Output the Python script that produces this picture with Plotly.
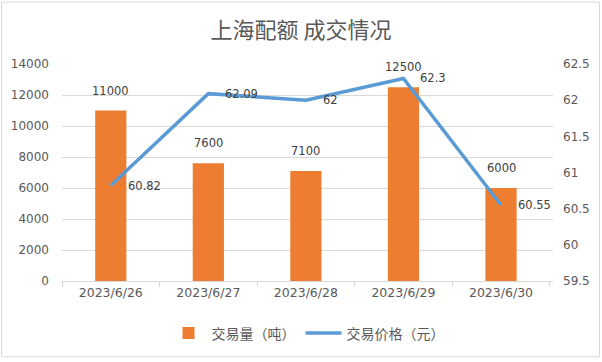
import plotly.graph_objects as go

dates = ["2023/6/26", "2023/6/27", "2023/6/28", "2023/6/29", "2023/6/30"]
volume = [11000, 7600, 7100, 12500, 6000]
price = [60.82, 62.09, 62, 62.3, 60.55]

W, H = 602, 362
ml, mr, mt, mb = 62, 49, 64, 79
pw = W - ml - mr
ph = H - mt - mb
LBL = dict(size=11.5, color="#404040", family="DejaVu Sans")

fig = go.Figure()
fig.add_trace(go.Bar(
    x=dates, y=volume, name="交易量（吨）",
    marker=dict(color="#ED7D31", line=dict(width=0)),
    width=0.32,
))
fig.add_trace(go.Scatter(
    x=dates, y=price, name="交易价格（元）", yaxis="y2",
    mode="lines", line=dict(color="#5B9BD5", width=3.5),
))

for d, v in zip(dates, volume):
    fig.add_annotation(x=d, y=v, xref="x", yref="y", text=str(v), showarrow=False,
                       yanchor="bottom", yshift=11, font=LBL)
for d, p in zip(dates, price):
    fig.add_annotation(x=d, y=p, xref="x", yref="y2", text=f"{p:g}", showarrow=False,
                       xanchor="left", yanchor="middle", xshift=15, font=LBL)

fig.update_layout(
    width=W, height=H,
    margin=dict(l=ml, r=mr, t=mt, b=mb),
    paper_bgcolor="white", plot_bgcolor="white",
    title=dict(text="上海配额 成交情况", x=0.5, xanchor="center", y=1 - 30 / H, yanchor="middle",
               font=dict(size=22, color="#595959", family="Noto Sans CJK SC")),
    font=dict(family="DejaVu Sans", color="#595959", size=12),
    showlegend=True,
    legend=dict(orientation="h", x=0.5, xanchor="center", y=-(336 - 283) / ph, yanchor="middle",
                font=dict(size=14, color="#595959", family="Noto Sans CJK SC"),
                itemwidth=36),
    xaxis=dict(type="category", showgrid=False, showline=True, linecolor="#D9D9D9",
               ticks="outside", tickson="boundaries", tickcolor="#D9D9D9", ticklen=5,
               tickfont=dict(size=12.5, color="#595959")),
    yaxis=dict(range=[0, 14000], dtick=2000, tickformat="d", showgrid=True, gridcolor="#D9D9D9",
               zeroline=False, showline=False, ticks="", tickfont=dict(size=12, color="#595959"),
               ticklabelstandoff=12),
    yaxis2=dict(range=[59.5, 62.5], dtick=0.5, overlaying="y", side="right", showgrid=False,
                zeroline=False, showline=False, tickfont=dict(size=12, color="#595959"),
                ticklabelstandoff=9),
)
fig.add_shape(type="rect", xref="paper", yref="paper",
              x0=-(ml - 1.5) / pw, x1=1 + (mr - 2.5) / pw, y0=-(mb - 2.5) / ph, y1=1 + (mt - 1.5) / ph,
              line=dict(color="#D9D9D9", width=1), layer="below")
fig.write_html("out.html", config={"displayModeBar": False},
               post_script="document.body.style.margin='0px';")
